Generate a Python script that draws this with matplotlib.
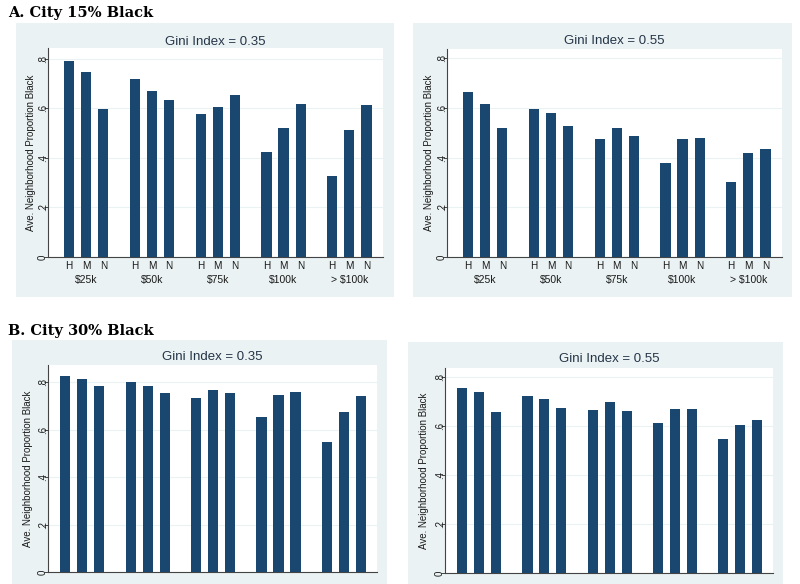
"""Proporción de vecindario negro por ingreso y preferencia (réplica estilo Stata)."""
import matplotlib
matplotlib.use('Agg')
import matplotlib.pyplot as plt
from matplotlib.patches import Rectangle

# ---------------------------------------------------------------------------
# Datos
# ---------------------------------------------------------------------------
grupos = ['$25k', '$50k', '$75k', '$100k', '> $100k']
tipos = ['H', 'M', 'N']

# orden: por grupo de ingreso, H M N
a_gini35 = [0.792, 0.749, 0.599, 0.718, 0.672, 0.634, 0.576, 0.605, 0.653,
            0.422, 0.521, 0.619, 0.328, 0.513, 0.614]
a_gini55 = [0.664, 0.617, 0.519, 0.595, 0.578, 0.526, 0.474, 0.519, 0.487,
            0.380, 0.474, 0.480, 0.300, 0.420, 0.434]
b_gini35 = [0.828, 0.814, 0.783, 0.803, 0.783, 0.754, 0.735, 0.766, 0.754,
            0.652, 0.746, 0.758, 0.548, 0.675, 0.744]
b_gini55 = [0.755, 0.741, 0.660, 0.725, 0.713, 0.676, 0.667, 0.697, 0.664,
            0.614, 0.672, 0.671, 0.547, 0.604, 0.624]

titulos = ['Gini Index = 0.35', 'Gini Index = 0.55']
yticks = [0, 0.2, 0.4, 0.6, 0.8]
ytick_labels = ['0', '.2', '.4', '.6', '.8']

# ---------------------------------------------------------------------------
W, H = 800, 584
COLOR_BAR = '#1A476F'
COLOR_BG = '#EAF2F3'
COLOR_TXT = '#1a1a1a'
plt.rcParams.update({'font.family': 'Liberation Sans'})

fig = plt.figure(figsize=(W / 100, H / 100), dpi=100)
fig.patch.set_facecolor('white')

fx = lambda px: px / W
fy = lambda py: 1 - py / H

GAP = 3.85
xpos = [g * GAP + j for g in range(len(grupos)) for j in range(len(tipos))]


def panel(caja, area, vals, titulo, ytop, off_izq, off_der, y_tit, x_ylab, eje_x=True):
    x0, y0, x1, y1 = caja
    fig.patches.append(Rectangle((fx(x0), fy(y1)), fx(x1) - fx(x0), fy(y0) - fy(y1),
                                 transform=fig.transFigure, facecolor=COLOR_BG,
                                 edgecolor='none', zorder=-5))
    a0, b0, a1, b1 = area
    ax = fig.add_axes([fx(a0), fy(b1), fx(a1) - fx(a0), fy(b0) - fy(b1)])
    ax.set_facecolor('white')
    ax.bar(xpos, vals, width=0.6, color=COLOR_BAR, zorder=3)
    ax.set_ylim(0, ytop)
    ax.set_xlim(-off_izq / 17, xpos[-1] + off_der / 17)
    ax.set_yticks(yticks)
    ax.set_yticklabels(ytick_labels, rotation=90, va='center', ha='center')
    ax.yaxis.grid(True, color=COLOR_BG, linewidth=0.8, zorder=0)
    ax.set_axisbelow(True)
    ax.tick_params(axis='y', length=3, width=0.7, color='#444444', labelsize=7,
                   labelcolor=COLOR_TXT, pad=0.8)
    ax.set_xticks(xpos)
    if eje_x:
        ax.set_xticklabels(tipos * len(grupos))
        for g, nombre in enumerate(grupos):
            ax.annotate(nombre, xy=(g * GAP + 1, 0), xycoords=('data', 'axes fraction'),
                        xytext=(0, -23), textcoords='offset pixels', ha='center',
                        va='center', fontsize=7.5, color=COLOR_TXT, annotation_clip=False)
    else:
        ax.set_xticklabels([])
    ax.tick_params(axis='x', length=0, labelsize=7.2, labelcolor=COLOR_TXT, pad=3)
    for s in ['top', 'right']:
        ax.spines[s].set_visible(False)
    for s in ['left', 'bottom']:
        ax.spines[s].set_color('#444444')
        ax.spines[s].set_linewidth(0.8)
    fig.text(fx((a0 + a1) / 2), fy(y_tit), titulo, ha='center', va='center',
             fontsize=9.5, color='#243447')
    fig.text(fx(x_ylab), fy((b0 + b1) / 2), 'Ave. Neighborhood Proportion Black',
             rotation=90, ha='center', va='center', fontsize=7, color=COLOR_TXT)
    return ax


# Panel A
panel((16, 23, 394, 297), (48, 48, 383, 257), a_gini35, titulos[0], 0.844, 21, 16.5, 41.7, 31)
panel((413, 23, 792, 297), (447, 49, 782, 257), a_gini55, titulos[1], 0.837, 21, 16.5, 40.5, 429)
# Panel B (recortado abajo en el original: no se ven las etiquetas del eje x)
panel((12, 340, 387, 700), (48, 365, 377, 572), b_gini35, titulos[0], 0.873, 17.3, 16, 356.7, 28,
      eje_x=False)
panel((408, 342, 783, 700), (445, 368, 773, 573), b_gini55, titulos[1], 0.838, 17.3, 16, 359.3, 424,
      eje_x=False)

fig.text(fx(8), fy(17.3), 'A. City 15% Black', ha='left', va='baseline',
         fontsize=10.5, fontweight='bold', family='DejaVu Serif', color='black')
fig.text(fx(8), fy(335), 'B. City 30% Black', ha='left', va='baseline',
         fontsize=10.5, fontweight='bold', family='DejaVu Serif', color='black')

fig.savefig('out.png', dpi=100, facecolor='white')
